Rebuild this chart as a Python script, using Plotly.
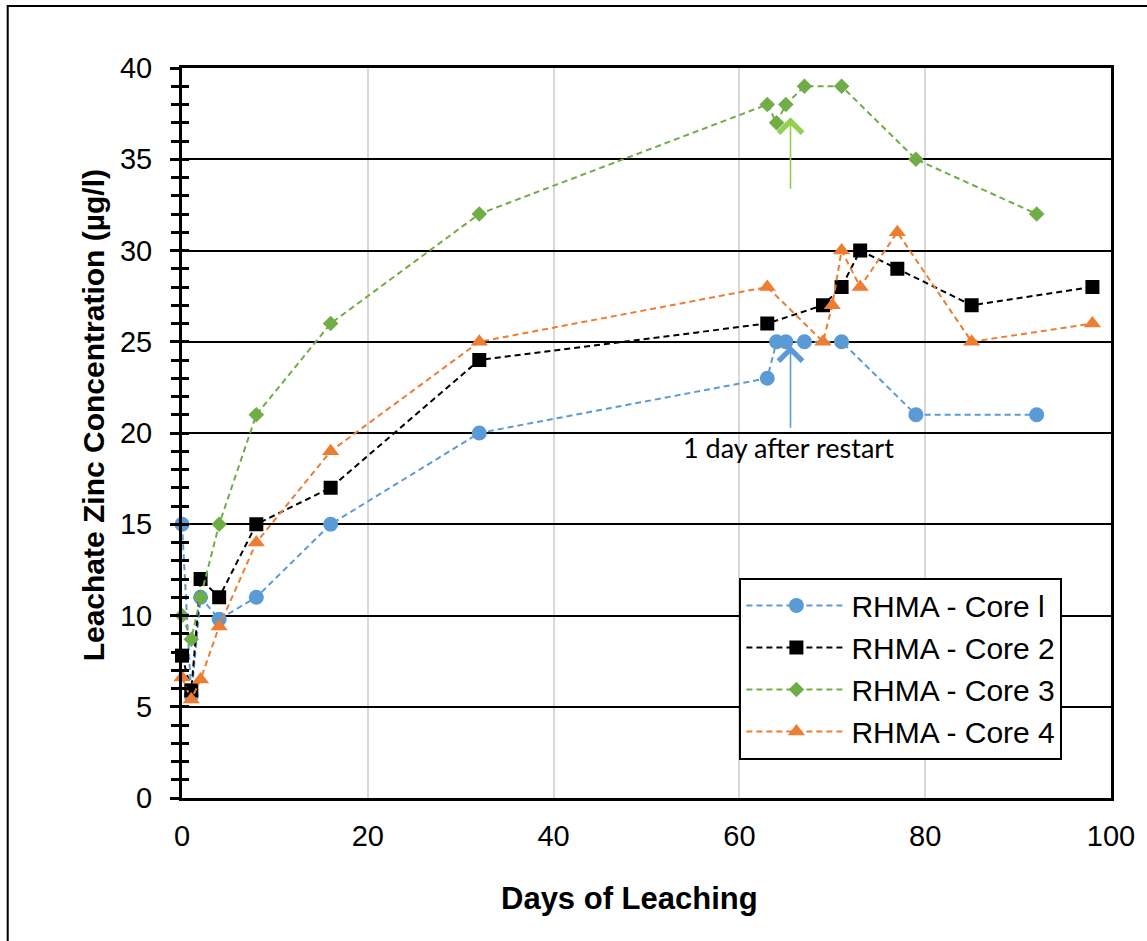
import plotly.graph_objects as go

# Leaching days and zinc concentrations (µg/l) for each RHMA core
days_core1 = [0, 1, 2, 4, 8, 16, 32, 63, 64, 65, 67, 71, 79, 92]
zinc_core1 = [15, 5.6, 11, 9.8, 11, 15, 20, 23, 25, 25, 25, 25, 21, 21]

days_core2 = [0, 1, 2, 4, 8, 16, 32, 63, 69, 71, 73, 77, 85, 98]
zinc_core2 = [7.8, 5.9, 12, 11, 15, 17, 24, 26, 27, 28, 30, 29, 27, 28]

days_core3 = [0, 1, 2, 4, 8, 16, 32, 63, 64, 65, 67, 71, 79, 92]
zinc_core3 = [10, 8.7, 11, 15, 21, 26, 32, 38, 37, 38, 39, 39, 35, 32]

days_core4 = [0, 1, 2, 4, 8, 16, 32, 63, 69, 70, 71, 73, 77, 85, 98]
zinc_core4 = [6.6, 5.4, 6.5, 9.4, 14, 19, 25, 28, 25, 27, 30, 28, 31, 25, 26]

series_names = ["RHMA - Core l", "RHMA - Core 2", "RHMA - Core 3", "RHMA - Core 4"]
series_colors = ["#5B9BD5", "#000000", "#70AD47", "#ED7D31"]
series_symbols = ["circle", "square", "diamond", "triangle-up"]
series_sizes = [15, 14, 12, 15]

# Restart arrows: day, tail value, head value
restart_day = 65.5
green_arrow = (33.3, 37.3)
blue_arrow = (20.2, 24.8)
restart_label = "1 day after restart"
restart_label_pos = (65.3, 19.2)

ARIAL = "Liberation Sans, Arial, sans-serif"

fig = go.Figure()

all_days = [days_core1, days_core2, days_core3, days_core4]
all_zinc = [zinc_core1, zinc_core2, zinc_core3, zinc_core4]

for d, z, name, color, sym, size in zip(all_days, all_zinc, series_names,
                                        series_colors, series_symbols, series_sizes):
    fig.add_trace(go.Scatter(
        x=d, y=z, name=name, mode="lines+markers", cliponaxis=False,
        line=dict(color=color, width=2, dash="6px,4px"),
        marker=dict(symbol=sym, size=size, color=color, line=dict(width=0)),
    ))

# Companion axis carrying the inward half of the y tick marks
fig.add_trace(go.Scatter(x=days_core1, y=zinc_core1, mode="none", yaxis="y2",
                         showlegend=False, hoverinfo="skip"))

fig.update_layout(
    width=1147, height=941,
    margin=dict(l=182, r=32, t=68, b=143),
    paper_bgcolor="white", plot_bgcolor="white",
    font=dict(family=ARIAL, size=30, color="black"),
    showlegend=True,
    legend=dict(
        x=0.6, y=0.302, xanchor="left", yanchor="top",
        bordercolor="black", borderwidth=2, bgcolor="white",
        font=dict(family=ARIAL, size=30, color="black"),
        itemwidth=100, tracegroupgap=0,
    ),
    xaxis=dict(
        range=[0, 100], dtick=20, tick0=0,
        showgrid=True, gridcolor="#D9D9D9", gridwidth=1.5,
        showline=True, linecolor="black", linewidth=3, mirror=True,
        ticks="", ticklabelstandoff=10,
        tickfont=dict(family=ARIAL, size=29, color="black"),
        zeroline=False,
    ),
    yaxis=dict(
        range=[0, 40], dtick=5, tick0=0,
        showgrid=True, gridcolor="black", gridwidth=2,
        showline=True, linecolor="black", linewidth=3, mirror=True,
        ticks="outside", ticklen=9, tickwidth=2.5, tickcolor="black",
        minor=dict(dtick=1, ticks="outside", ticklen=8, tickwidth=2.5,
                   tickcolor="black", showgrid=False),
        ticklabelstandoff=12,
        tickfont=dict(family=ARIAL, size=29, color="black"),
        zeroline=False,
    ),
    yaxis2=dict(
        range=[0, 40], dtick=5, tick0=0, overlaying="y", side="left",
        anchor="x", showgrid=False, showline=False, showticklabels=False,
        ticks="inside", ticklen=7, tickwidth=2.5, tickcolor="black",
        minor=dict(dtick=1, ticks="inside", ticklen=7, tickwidth=2.5,
                   tickcolor="black", showgrid=False),
        zeroline=False,
    ),
)

annotations = [
    dict(text="<b>Days of Leaching</b>", xref="paper", yref="paper",
         x=0.482, y=-0.137, showarrow=False, xanchor="center", yanchor="middle",
         font=dict(family=ARIAL, size=31, color="black")),
    dict(text="<b>Leachate Zinc Concentration (µg/l)</b>", xref="paper", yref="paper",
         x=-0.0943, y=0.5247, showarrow=False, textangle=-90,
         xanchor="center", yanchor="middle",
         font=dict(family=ARIAL, size=30, color="black")),
    dict(text=restart_label, xref="x", yref="y",
         x=restart_label_pos[0], y=restart_label_pos[1], showarrow=False,
         xanchor="center", yanchor="middle",
         font=dict(family="Lato, Open Sans, sans-serif", size=27, color="black")),
    dict(text="", xref="x", yref="y", axref="x", ayref="y",
         x=restart_day, y=green_arrow[1], ax=restart_day, ay=green_arrow[0],
         showarrow=True, arrowhead=4, arrowsize=2.9, arrowwidth=1.6,
         arrowcolor="#92D050", standoff=0, startstandoff=0),
    dict(text="", xref="x", yref="y", axref="x", ayref="y",
         x=restart_day, y=blue_arrow[1], ax=restart_day, ay=blue_arrow[0],
         showarrow=True, arrowhead=4, arrowsize=2.9, arrowwidth=1.6,
         arrowcolor="#5B9BD5", standoff=0, startstandoff=0),
]
fig.update_layout(annotations=annotations)

# Outer chart frame
fig.add_shape(type="rect", xref="paper", yref="paper",
              x0=-0.1876, x1=1.2, y0=-0.4, y1=1.0849,
              line=dict(color="black", width=2), fillcolor="rgba(0,0,0,0)",
              layer="below")

fig.write_html("out.html")
